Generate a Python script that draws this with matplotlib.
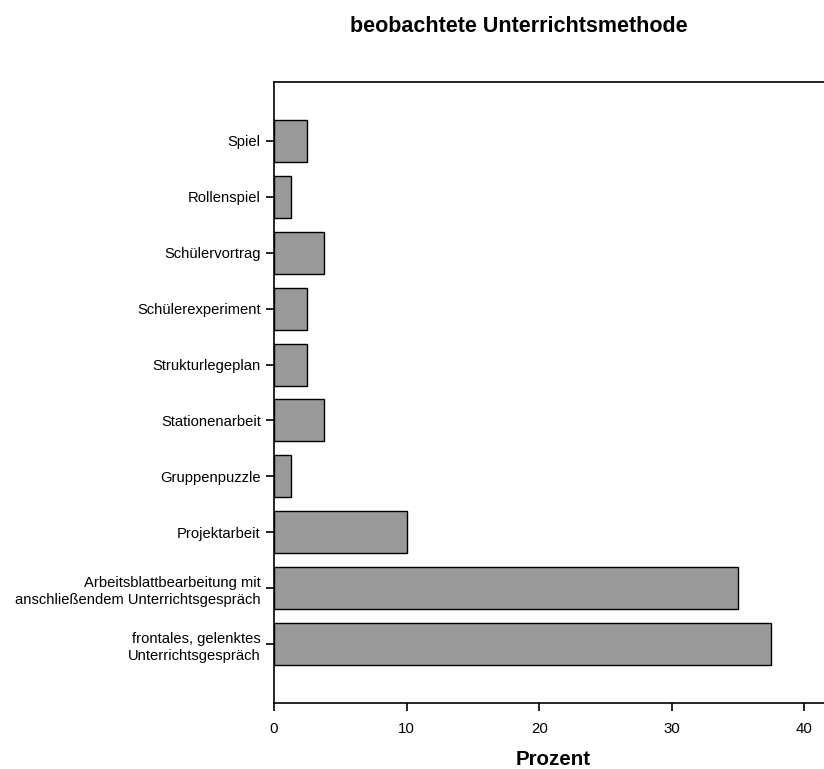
import matplotlib.pyplot as plt

plt.rcParams['font.family'] = ['Liberation Sans Narrow', 'Liberation Sans', 'DejaVu Sans']

# Kategorien (von unten nach oben) und Prozentwerte
methoden = ["frontales, gelenktes\nUnterrichtsgespräch",
            "Arbeitsblattbearbeitung mit\nanschließendem Unterrichtsgespräch",
            "Projektarbeit",
            "Gruppenpuzzle",
            "Stationenarbeit",
            "Strukturlegeplan",
            "Schülerexperiment",
            "Schülervortrag",
            "Rollenspiel",
            "Spiel"]
prozent = [37.5, 35.0, 10.0, 1.25, 3.75, 2.5, 2.5, 3.75, 1.25, 2.5]
xticks = [0, 10, 20, 30, 40]

fig = plt.figure(figsize=(8.24, 7.69), dpi=100)
ax = fig.add_axes([274/824, 1 - 703/769, 1 - 274/824 + 0.01, (703 - 82)/769])

ax.barh(range(len(methoden)), prozent, height=0.75, color='#999999',
        edgecolor='black', linewidth=1.0)

ax.set_yticks(range(len(methoden)))
ax.set_yticklabels(methoden, fontsize=10.6, linespacing=1.25)
ax.set_xticks(xticks)
ax.set_xticklabels([str(v) for v in xticks], fontsize=10.8)
ax.set_xlim(0, 42.1)
ax.set_ylim(-1.05, 10.05)
ax.tick_params(axis='both', length=6, width=1.2, color='black')
ax.tick_params(axis='y', pad=3.5)
ax.tick_params(axis='x', pad=8)
ax.spines['right'].set_visible(False)
for s in ['left', 'bottom', 'top']:
    ax.spines[s].set_linewidth(1.2)

ax.set_xlabel("Prozent", fontsize=14.8, fontweight='bold',
              family=['Liberation Sans', 'DejaVu Sans'], labelpad=10)
fig.text(519/824, 1 - 27/769, "beobachtete Unterrichtsmethode", fontsize=15.5,
         fontweight='bold', ha='center', va='center',
         family=['Liberation Sans', 'DejaVu Sans'])

fig.savefig('out.png', dpi=100)
